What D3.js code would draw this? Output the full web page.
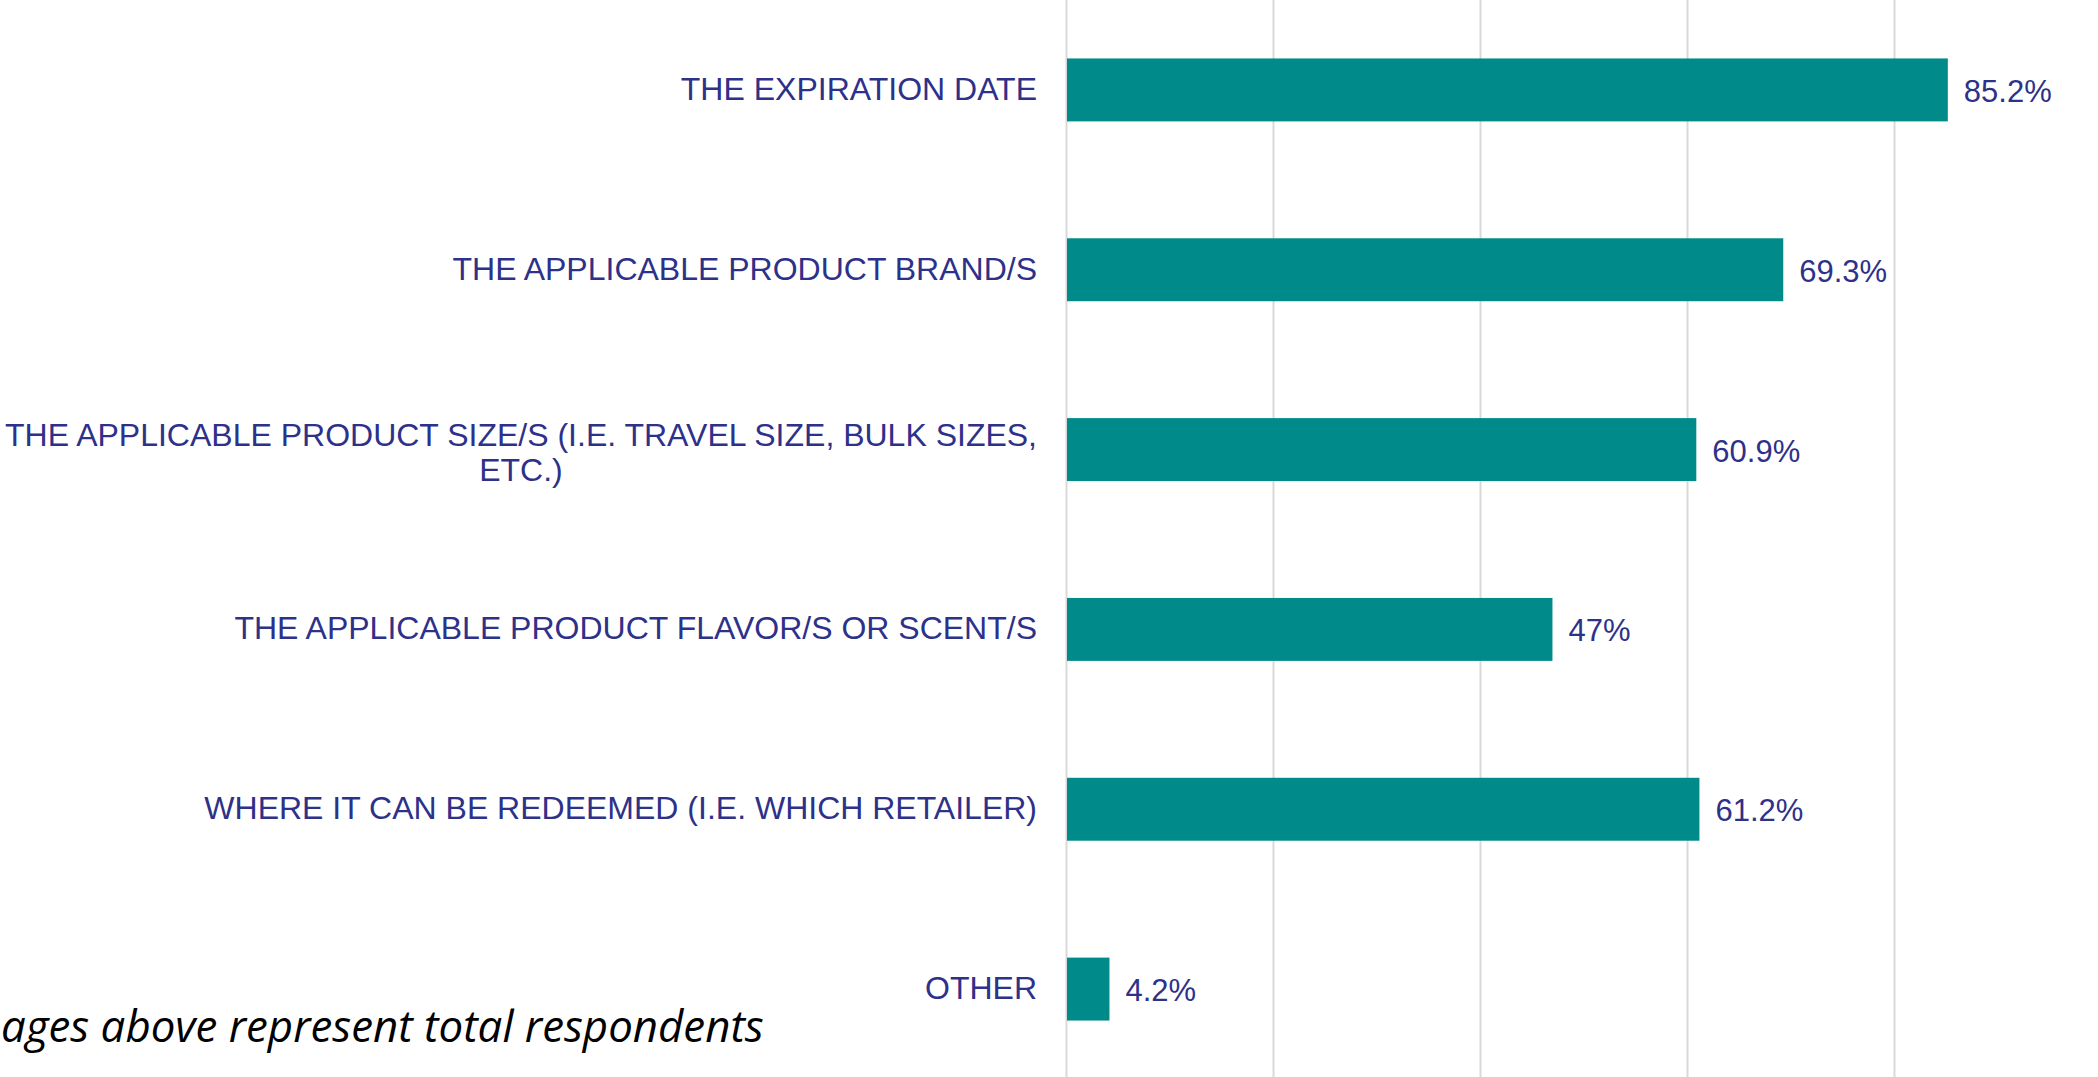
<!DOCTYPE html>
<html>
<head>
<meta charset="utf-8">
<script src="https://cdn.jsdelivr.net/npm/d3@7"></script>
<style>
  html, body { margin: 0; padding: 0; background: #fff; overflow: hidden; }
  svg { display: block; }
</style>
</head>
<body>
<div id="chart"></div>
<script>
var categories = [
  "THE EXPIRATION DATE",
  "THE APPLICABLE PRODUCT BRAND/S",
  "THE APPLICABLE PRODUCT SIZE/S (I.E. TRAVEL SIZE, BULK SIZES, ETC.)",
  "THE APPLICABLE PRODUCT FLAVOR/S OR SCENT/S",
  "WHERE IT CAN BE REDEEMED (I.E. WHICH RETAILER)",
  "OTHER"
];
var values = [85.2, 69.3, 60.9, 47, 61.2, 4.2];
var gridTicks = [0, 20, 40, 60, 80, 100];
var footnote = "ages above represent total respondents";

var width = 2098,
    height = 1077,
    labelRight = 1037,
    textColor = "#2e3189",
    barColor = "#008a8a";

var svg = d3.select("#chart")
  .append("svg")
  .attr("width", width)
  .attr("height", height);

var x = d3.scaleLinear().domain([0, 100]).range([1066, 2101]);
var y = d3.scaleBand().domain(categories).range([0, 1079])
  .paddingInner(0.65).paddingOuter(0.325);

// vertical grid lines
var grid = svg.append("g")
  .attr("class", "grid")
  .call(d3.axisBottom(x).tickValues(gridTicks).tickSize(height).tickFormat(""));
grid.select(".domain").remove();
grid.selectAll("line").attr("stroke", "#d9d9d9").attr("stroke-width", 2);

// bars
svg.selectAll(".bar")
  .data(categories)
  .enter().append("rect")
  .attr("class", "bar")
  .attr("x", x(0) + 1)
  .attr("y", d => y(d))
  .attr("width", (d, i) => x(values[i]) - x(0) - 1)
  .attr("height", y.bandwidth())
  .attr("fill", barColor);

// value labels
svg.selectAll(".val")
  .data(categories)
  .enter().append("text")
  .attr("class", "val")
  .attr("x", (d, i) => x(values[i]) + 16)
  .attr("y", d => y(d) + y.bandwidth() / 2 + 12)
  .attr("fill", textColor)
  .style("font-family", "'Liberation Sans', Arial, sans-serif")
  .style("font-size", "31px")
  .text((d, i) => values[i] + "%");

// category labels, wrapped when too wide
var maxLabel = 1045;
categories.forEach(function(c) {
  var cy = y(c) + y.bandwidth() / 2;
  var t = svg.append("text")
    .attr("fill", textColor)
    .style("font-family", "'Liberation Sans', Arial, sans-serif")
    .style("font-size", "32px");
  var words = c.split(" "), lines = [], line = [];
  words.forEach(function(w) {
    line.push(w);
    t.text(line.join(" "));
    if (t.node().getComputedTextLength() > maxLabel && line.length > 1) {
      line.pop();
      lines.push(line.join(" "));
      line = [w];
    }
  });
  lines.push(line.join(" "));
  t.text(null);
  if (lines.length === 1) {
    t.attr("text-anchor", "end")
      .attr("x", labelRight)
      .attr("y", cy + 10)
      .text(lines[0]);
  } else {
    var lh = 35;
    var widths = lines.map(function(l) {
      t.text(l);
      return t.node().getComputedTextLength();
    });
    t.text(null);
    var cx = labelRight - d3.max(widths) / 2;
    t.attr("text-anchor", "middle");
    lines.forEach(function(l, k) {
      t.append("tspan")
        .attr("x", cx)
        .attr("y", cy + 14 - (lines.length - 1) * lh / 2 + k * lh)
        .text(l);
    });
  }
});

// footnote (only its visible tail shows in the source)
var fn = svg.append("text")
  .attr("x", 1)
  .attr("y", 1042)
  .attr("fill", "#000")
  .style("font-family", "'Open Sans', sans-serif")
  .style("font-style", "italic")
  .style("font-size", "40px")
  .text(footnote);
var fw = fn.node().getComputedTextLength();
fn.style("font-size", (40 * 763 / fw) + "px");
</script>
</body>
</html>
